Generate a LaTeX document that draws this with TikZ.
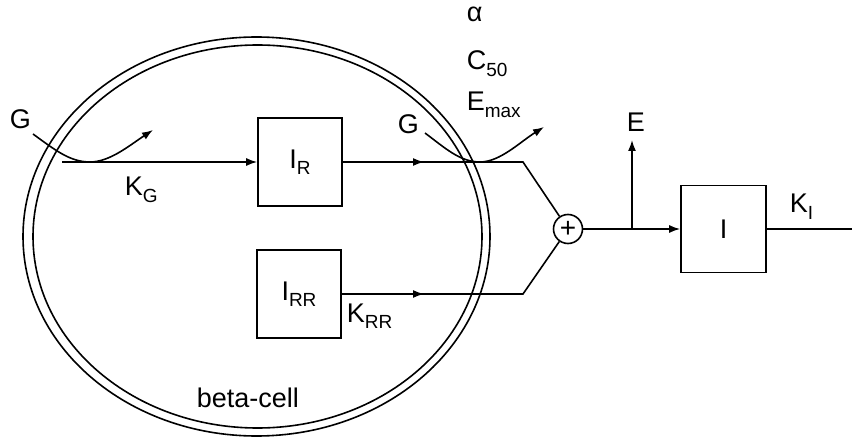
\documentclass[tikz,border=0pt]{standalone}
\usepackage{fontspec}
\setmainfont{Liberation Sans}
\usetikzlibrary{arrows.meta}
\newcommand\lowsub[1]{\raisebox{-6.5pt}{\fontsize{19}{19}\selectfont #1}}
\begin{document}
\begin{tikzpicture}[x=1pt,y=-1pt,line width=1.6pt,
  every node/.style={font=\fontsize{27}{32}\selectfont,inner sep=0pt},
  blk/.style={draw,minimum width=84pt,minimum height=88pt},
  arr/.style={-{Latex[length=11pt,width=8pt]}},
  lbl/.style={anchor=base west}]
\useasboundingbox (0,0) rectangle (852,441);
% cell membrane
\draw (256.5,236.5) ellipse [x radius=233.5,y radius=199.5];
\draw (257.5,236.5) ellipse [x radius=224.5,y radius=191.5];
% blocks
\node[blk] (IR) at (300,162) {I\lowsub{R}};
\node[blk] (IRR) at (299,294) {I\lowsub{RR}};
\node[blk,minimum width=85pt,minimum height=87pt] (I) at (723.5,229) {I};
\node[draw,circle,minimum size=29pt,font=\fontsize{28}{28}\selectfont] (sum) at (568,229) {+};
% coordinates
\coordinate (inL) at (62,162);
\coordinate (m1) at (424,162);
\coordinate (c1) at (523,162);
\coordinate (m2) at (424,294);
\coordinate (c2) at (523,294);
\coordinate (br) at (632,229);
\coordinate (Etip) at (632,140);
\coordinate (out) at (852,229);
\coordinate (g1s) at (33,134);
\coordinate (g1t) at (153,130);
\coordinate (g2s) at (425,133);
\coordinate (g2t) at (544,127);
% connectors
\draw[arr] (inL) -- (IR);
\draw (IR) -- (c1) -- (sum);
\draw[arr] (IR) -- (m1);
\draw (IRR) -- (c2) -- (sum);
\draw[arr] (IRR) -- (m2);
\draw[arr] (sum) -- (I);
\draw[arr] (br) -- (Etip);
\draw (I) -- (out);
\draw[arr] (g1s) .. controls (55,150) and (70,162) .. (90,162) .. controls (110,162) and (130,145) .. (g1t);
\draw[arr] (g2s) .. controls (445,148) and (460,162) .. (480,162) .. controls (500,162) and (520,142) .. (g2t);
% labels
\node[lbl] (G1) at (9,129) {G};
\node[lbl] (G2) at (397,134) {G};
\node[lbl] (KG) at (124,196) {K\lowsub{G}};
\node[lbl] (KRR) at (346,322) {K\lowsub{RR}};
\node[lbl] (KI) at (789,213) {K\lowsub{I}};
\node[lbl] (E) at (626,132) {E};
\node[lbl] (al) at (466,22) {α};
\node[lbl] (C50) at (466,70) {C\lowsub{50}};
\node[lbl] (Emax) at (466,111) {E\lowsub{max}};
\node[lbl] (beta) at (196,407) {beta-cell};
\end{tikzpicture}
\end{document}
